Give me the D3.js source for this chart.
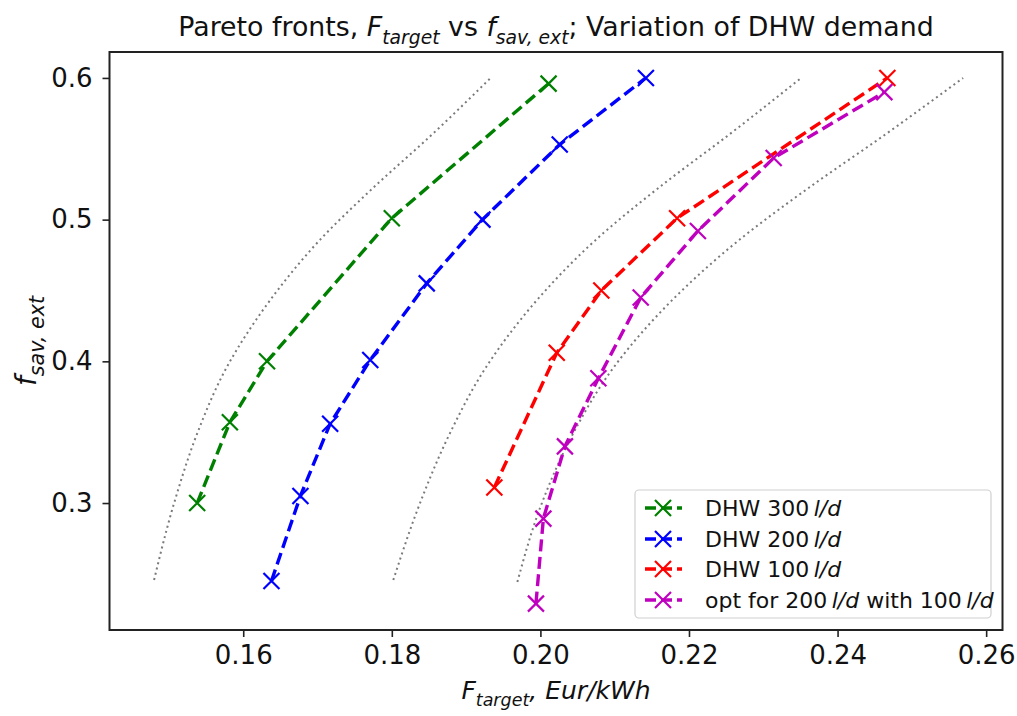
<!DOCTYPE html>
<html>
<head>
<meta charset="utf-8">
<script src="https://cdn.jsdelivr.net/npm/d3@7"></script>
<style>
  body { margin: 0; background: #fff; }
  text { font-family: "DejaVu Sans", sans-serif; fill: #111; }
</style>
</head>
<body>
<svg id="chart" width="1017" height="716"></svg>
<script>
// Tick values
const xTicks = [0.16, 0.18, 0.20, 0.22, 0.24, 0.26];
const yTicks = [0.3, 0.4, 0.5, 0.6];

// Pareto fronts: F_target (Eur/kWh) and f_sav,ext
const dhw300F = [0.1538, 0.1582, 0.1632, 0.1800, 0.2011];
const dhw300f = [0.300, 0.357, 0.400, 0.501, 0.596];

const dhw200F = [0.1638, 0.1677, 0.1717, 0.1771, 0.1847, 0.1922, 0.2026, 0.2142];
const dhw200f = [0.245, 0.305, 0.356, 0.401, 0.455, 0.500, 0.553, 0.600];

const dhw100F = [0.1938, 0.2022, 0.2082, 0.2184, 0.2467];
const dhw100f = [0.311, 0.406, 0.450, 0.501, 0.600];

const optF = [0.1994, 0.2004, 0.2033, 0.2078, 0.2135, 0.2212, 0.2314, 0.2463];
const optf = [0.229, 0.289, 0.340, 0.388, 0.445, 0.492, 0.5435, 0.590];

// Reference curves (dotted grey)
const ref1F = [0.1480, 0.1507, 0.1538, 0.1578, 0.1636, 0.1702, 0.1774, 0.1854, 0.1933];
const ref1f = [0.2457, 0.300, 0.349, 0.396, 0.443, 0.485, 0.522, 0.560, 0.600];
const ref2F = [0.1802, 0.1838, 0.1878, 0.1927, 0.1995, 0.2073, 0.2158, 0.2254, 0.2351];
const ref2f = [0.2457, 0.300, 0.349, 0.396, 0.443, 0.485, 0.522, 0.560, 0.600];
const ref3F = [0.1969, 0.2002, 0.2044, 0.2099, 0.2177, 0.2266, 0.2360, 0.2464, 0.2569];
const ref3f = [0.2443, 0.300, 0.349, 0.396, 0.443, 0.485, 0.522, 0.560, 0.600];

const seriesLabels = ["DHW 300", "DHW 200", "DHW 100", "opt for 200"];

const svg = d3.select("#chart");
const L = 109.5, R = 1002.5, T = 52, B = 630;

const x = d3.scaleLinear().domain([0.1420, 0.2622]).range([L, R]);
const y = d3.scaleLinear().domain([0.2104, 0.6183]).range([B, T]);

const zip = (a, b) => a.map((v, i) => [v, b[i]]);

// reference curves
const refLine = d3.line().x(d => x(d[0])).y(d => y(d[1])).curve(d3.curveMonotoneY);
[[ref1F, ref1f], [ref2F, ref2f], [ref3F, ref3f]].forEach(([a, b]) => {
  svg.append("path")
    .attr("d", refLine(zip(a, b)))
    .attr("fill", "none")
    .attr("stroke", "#7a7a7a")
    .attr("stroke-width", 2)
    .attr("stroke-linecap", "butt")
    .attr("stroke-dasharray", "2,3.4");
});

const series = [
  { F: dhw300F, f: dhw300f, color: "#008000" },
  { F: dhw200F, f: dhw200f, color: "#0000ff" },
  { F: dhw100F, f: dhw100f, color: "#ff0000" },
  { F: optF, f: optf, color: "#bf00bf" }
];

const line = d3.line().x(d => x(d[0])).y(d => y(d[1]));
const ms = 8;
function cross(g, cx, cy, color) {
  g.append("path")
    .attr("d", `M${cx - ms},${cy - ms}L${cx + ms},${cy + ms}M${cx - ms},${cy + ms}L${cx + ms},${cy - ms}`)
    .attr("stroke", color).attr("stroke-width", 2.2).attr("fill", "none");
}

series.forEach(s => {
  const pts = zip(s.F, s.f);
  svg.append("path")
    .attr("d", line(pts))
    .attr("fill", "none")
    .attr("stroke", s.color)
    .attr("stroke-width", 3.4)
    .attr("stroke-dasharray", "12,5.5");
  const g = svg.append("g");
  pts.forEach(p => cross(g, x(p[0]), y(p[1]), s.color));
});

// axes
const xAxis = svg.append("g").attr("transform", `translate(0,${B})`)
  .call(d3.axisBottom(x).tickValues(xTicks).tickFormat(d3.format(".2f")).tickSize(7).tickPadding(9));
const yAxis = svg.append("g").attr("transform", `translate(${L},0)`)
  .call(d3.axisLeft(y).tickValues(yTicks).tickFormat(d3.format(".1f")).tickSize(7).tickPadding(10));
[xAxis, yAxis].forEach(a => {
  a.select(".domain").remove();
  a.selectAll("line").attr("stroke", "#222").attr("stroke-width", 1.6);
  a.selectAll("text").style("font-family", "DejaVu Sans").style("font-size", "26px").attr("fill", "#111");
});

// frame
svg.append("rect").attr("x", L).attr("y", T).attr("width", R - L).attr("height", B - T)
  .attr("fill", "none").attr("stroke", "#222").attr("stroke-width", 2);

// rich text helper: parts = [text, italic, subscript]
function rich(el, parts, size, subScale) {
  let wasSub = false;
  const sh = size * 0.28;
  parts.forEach(([t, it, sub]) => {
    const ts = el.append("tspan").text(t)
      .style("font-style", it ? "italic" : "normal")
      .style("font-size", (sub ? size * subScale : size) + "px");
    if (sub && !wasSub) ts.attr("dy", sh);
    if (!sub && wasSub) ts.attr("dy", -sh);
    wasSub = sub;
  });
}

// title
const title = svg.append("text").attr("x", (L + R) / 2).attr("y", 36).attr("text-anchor", "middle");
rich(title, [["Pareto fronts, ", false, false], ["F", true, false], ["target", true, true],
  [" vs ", false, false], ["f", true, false], ["sav, ext", true, true],
  ["; Variation of DHW demand", false, false]], 26.8, 0.7);

// x label
const xl = svg.append("text").attr("x", (L + R) / 2).attr("y", 699).attr("text-anchor", "middle");
rich(xl, [["F", true, false], ["target", true, true], [", Eur/kWh", true, false]], 25, 0.7);

// y label
const yl = svg.append("text").attr("transform", `translate(36,${(T + B) / 2}) rotate(-90)`).attr("text-anchor", "middle");
rich(yl, [["f", true, false], ["sav, ext", true, true]], 28, 0.74);

// legend
const lg = svg.append("g");
lg.append("rect").attr("x", 635).attr("y", 490).attr("width", 356).attr("height", 128).attr("rx", 4)
  .attr("fill", "#fff").attr("fill-opacity", 0.85).attr("stroke", "#d0d0d0").attr("stroke-width", 1.2);
const rowY = [508, 539, 569, 600];
const legendParts = [
  [[seriesLabels[0] + "\u2009", false], ["l/d", true]],
  [[seriesLabels[1] + "\u2009", false], ["l/d", true]],
  [[seriesLabels[2] + "\u2009", false], ["l/d", true]],
  [[seriesLabels[3] + "\u2009", false], ["l/d", true], [" with 100\u2009", false], ["l/d", true]]
];
series.forEach((s, i) => {
  const yy = rowY[i];
  lg.append("line").attr("x1", 645).attr("x2", 682).attr("y1", yy).attr("y2", yy)
    .attr("stroke", s.color).attr("stroke-width", 3.4).attr("stroke-dasharray", "11,5");
  cross(lg, 663, yy, s.color);
  const t = lg.append("text").attr("x", 705).attr("y", yy + 8);
  legendParts[i].forEach(([txt, it]) => t.append("tspan").text(txt)
    .style("font-style", it ? "italic" : "normal").style("font-size", "22px"));
});
</script>
</body>
</html>
